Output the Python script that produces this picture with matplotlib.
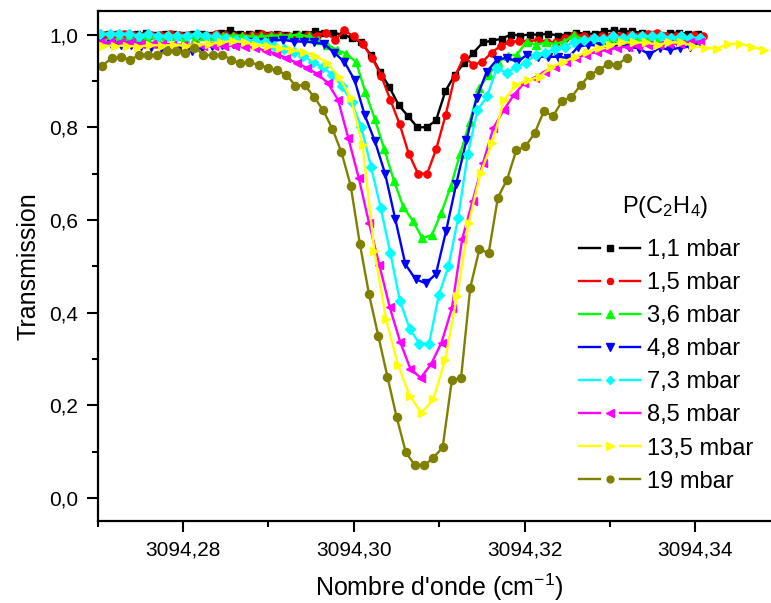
import numpy as np
import matplotlib
matplotlib.use("Agg")
import matplotlib.pyplot as plt
from matplotlib.lines import Line2D
from matplotlib.legend_handler import HandlerBase
from matplotlib.ticker import MultipleLocator, FuncFormatter

plt.rcParams['font.family'] = ['Liberation Sans', 'DejaVu Sans']
plt.rcParams['mathtext.fontset'] = 'custom'
plt.rcParams['mathtext.rm'] = 'Liberation Sans'
plt.rcParams['mathtext.it'] = 'Liberation Sans:italic'
plt.rcParams['mathtext.bf'] = 'Liberation Sans:bold'

# ---------------- data ----------------
labels = ["1,1 mbar", "1,5 mbar", "3,6 mbar", "4,8 mbar", "7,3 mbar", "8,5 mbar", "13,5 mbar", "19 mbar"]
colors = ["#000000", "#FF0000", "#00FF00", "#0000FF", "#00FFFF", "#FF00FF", "#FFFF00", "#808000"]
markers = ["s", "o", "^", "v", "D", "<", ">", "o"]

# first wavenumber (cm-1) and sampling step of each recorded spectrum
x_start = [3094.27022, 3094.27089, 3094.27028, 3094.27032, 3094.27028, 3094.27028, 3094.27063, 3094.27055]
x_step = [0.0010949, 0.0010773, 0.0011101, 0.0011909, 0.0011335, 0.0012120, 0.0013818, 0.0010773]

T_1_1 = [1.002, 1.002, 1.002, 1.002, 1.002, 1.004, 1.000, 1.002, 1.002, 1.000, 1.002, 1.002, 1.000,
         1.004, 1.009, 1.002, 1.002, 1.004, 1.000, 1.002, 1.000, 1.002, 1.002, 1.007, 1.004, 1.004,
         1.000, 0.993, 0.983, 0.957, 0.920, 0.887, 0.848, 0.824, 0.800, 0.800, 0.815, 0.878, 0.913,
         0.939, 0.961, 0.983, 0.987, 0.991, 1.000, 0.998, 1.000, 1.000, 1.002, 0.998, 1.000, 1.004,
         1.002, 1.002, 1.007, 1.009, 1.007, 1.007, 1.004, 1.002, 1.000, 1.004, 1.004, 1.002, 1.002]
T_1_5 = [1.000, 1.000, 1.002, 1.000, 0.998, 1.000, 1.000, 1.002, 1.000, 1.000, 0.998, 1.000, 1.002,
         1.000, 0.998, 0.998, 1.000, 1.002, 1.000, 1.000, 0.998, 0.998, 1.000, 0.998, 1.004, 0.989,
         1.009, 0.996, 0.980, 0.950, 0.911, 0.859, 0.807, 0.743, 0.700, 0.700, 0.754, 0.826, 0.909,
         0.952, 0.935, 0.941, 0.961, 0.976, 0.983, 0.987, 0.985, 0.989, 0.985, 0.983, 0.993, 1.000,
         0.998, 0.993, 0.998, 0.996, 0.998, 1.000, 0.998, 1.002, 1.004, 0.998, 0.996, 0.993, 1.000, 0.996]
T_3_6 = [0.989, 0.989, 0.991, 0.991, 0.991, 0.993, 0.993, 0.996, 0.996, 0.993, 0.993, 0.996, 0.996,
         0.996, 0.998, 0.998, 0.996, 0.996, 0.998, 0.998, 0.998, 1.000, 0.996, 0.989, 0.978, 0.967,
         0.959, 0.941, 0.876, 0.817, 0.752, 0.685, 0.628, 0.598, 0.561, 0.567, 0.615, 0.672, 0.743,
         0.811, 0.885, 0.913, 0.941, 0.954, 0.957, 0.985, 0.978, 0.983, 0.980, 0.985, 1.000, 0.989,
         0.991, 0.989, 0.987, 0.989, 0.989, 0.991, 0.989, 0.993, 0.991, 0.989, 0.991, 0.989]
T_4_8 = [0.985, 0.980, 0.978, 0.978, 0.976, 0.974, 0.972, 0.974, 0.972, 0.965, 0.972, 0.976, 0.978,
         0.980, 0.980, 0.985, 0.985, 0.987, 0.989, 0.985, 0.985, 0.983, 0.980, 0.961, 0.941, 0.902,
         0.826, 0.770, 0.700, 0.602, 0.504, 0.472, 0.463, 0.483, 0.576, 0.678, 0.772, 0.863, 0.920,
         0.946, 0.950, 0.941, 0.957, 0.952, 0.952, 0.952, 0.950, 0.974, 0.978, 0.976, 0.974, 0.976,
         0.974, 0.970, 0.957, 0.972, 0.967, 0.972, 0.974, 0.985]
T_7_3 = [1.002, 1.002, 1.002, 1.002, 0.998, 1.002, 0.998, 0.998, 0.998, 0.998, 1.002, 0.998, 0.996,
         0.993, 0.989, 0.989, 0.987, 0.983, 0.976, 0.970, 0.963, 0.954, 0.941, 0.930, 0.913, 0.889,
         0.854, 0.800, 0.715, 0.626, 0.528, 0.424, 0.365, 0.333, 0.333, 0.437, 0.500, 0.604, 0.743,
         0.837, 0.867, 0.928, 0.917, 0.930, 0.939, 0.957, 0.961, 0.970, 0.974, 0.985, 0.989, 0.993,
         0.991, 0.996, 0.993, 0.996, 0.998, 0.996, 0.998, 0.993, 0.996, 0.993, 0.993]
T_8_5 = [0.983, 0.983, 0.983, 0.983, 0.980, 0.980, 0.980, 0.978, 0.978, 0.978, 0.976, 0.976, 0.976,
         0.976, 0.974, 0.972, 0.965, 0.959, 0.950, 0.939, 0.928, 0.915, 0.896, 0.859, 0.776, 0.691,
         0.593, 0.502, 0.411, 0.337, 0.278, 0.259, 0.289, 0.335, 0.409, 0.559, 0.641, 0.722, 0.798,
         0.837, 0.870, 0.896, 0.907, 0.920, 0.930, 0.941, 0.950, 0.957, 0.963, 0.967, 0.972, 0.974,
         0.976, 0.978, 0.978, 0.980, 0.980, 0.983, 0.985]
T_13_5 = [0.976, 0.976, 0.976, 0.974, 0.978, 0.976, 0.978, 0.976, 0.978, 0.980, 0.983, 0.987, 0.983,
          0.978, 0.976, 0.972, 0.967, 0.963, 0.954, 0.939, 0.909, 0.863, 0.761, 0.533, 0.385, 0.287,
          0.220, 0.183, 0.213, 0.298, 0.435, 0.593, 0.702, 0.767, 0.859, 0.891, 0.902, 0.909, 0.930,
          0.941, 0.952, 0.963, 0.972, 0.978, 0.983, 0.983, 0.983, 0.978, 0.983, 0.983, 0.976, 0.972,
          0.970, 0.980, 0.980, 0.974, 0.967]
T_19 = [0.933, 0.949, 0.951, 0.946, 0.955, 0.957, 0.955, 0.964, 0.964, 0.960, 0.972, 0.957, 0.955,
        0.957, 0.946, 0.938, 0.940, 0.935, 0.928, 0.923, 0.913, 0.890, 0.891, 0.866, 0.837, 0.797,
        0.746, 0.674, 0.548, 0.439, 0.350, 0.261, 0.174, 0.098, 0.070, 0.070, 0.087, 0.109, 0.254,
        0.259, 0.454, 0.537, 0.528, 0.648, 0.687, 0.750, 0.759, 0.787, 0.835, 0.824, 0.857, 0.865,
        0.891, 0.913, 0.924, 0.937, 0.935, 0.950]

series = [T_1_1, T_1_5, T_3_6, T_4_8, T_7_3, T_8_5, T_13_5, T_19]
marker_sizes = [4.8, 5.2, 6.3, 6.3, 5.3, 6.3, 6.3, 5.8]

x_ticks = [3094.28, 3094.30, 3094.32, 3094.34]
y_ticks = [0.0, 0.2, 0.4, 0.6, 0.8, 1.0]
legend_title = r"P(C$_\mathregular{2}$H$_\mathregular{4}$)"


class GapLineHandler(HandlerBase):
    def create_artists(self, legend, orig_handle, xdescent, ydescent, width, height, fontsize, trans):
        y = height / 2.0 - ydescent
        x0 = -xdescent
        g = width * 0.16
        c = orig_handle.get_color()
        lw = orig_handle.get_linewidth()
        l1 = Line2D([x0, x0 + width / 2 - g], [y, y], color=c, lw=lw)
        l2 = Line2D([x0 + width / 2 + g, x0 + width], [y, y], color=c, lw=lw)
        m = Line2D([x0 + width / 2], [y], linestyle='none', marker=orig_handle.get_marker(),
                   markersize=orig_handle.get_markersize() * 0.85, color=c, markeredgecolor=c)
        for a in (l1, l2, m):
            a.set_transform(trans)
        return [l1, l2, m]


fig = plt.figure(figsize=(7.71, 6.03), dpi=100)
ax = fig.add_axes([0.1266, 0.136, 0.886, 0.845])

handles = []
for ys, x0, dx, lab, col, mk, ms in zip(series, x_start, x_step, labels, colors, markers, marker_sizes):
    xs = x0 + dx * np.arange(len(ys))
    h, = ax.plot(xs, ys, color=col, lw=1.7, marker=mk, markersize=ms,
                 markeredgecolor=col, markerfacecolor=col, label=lab)
    handles.append(h)

ax.set_xlim(3094.27, 3094.35)
ax.set_ylim(-0.05, 1.05)
ax.set_xticks(x_ticks)
ax.set_yticks(y_ticks)
ax.xaxis.set_minor_locator(MultipleLocator(0.01))
ax.yaxis.set_minor_locator(MultipleLocator(0.1))
ax.xaxis.set_major_formatter(FuncFormatter(lambda v, p: ("%.2f" % v).replace('.', ',')))
ax.yaxis.set_major_formatter(FuncFormatter(lambda v, p: ("%.1f" % v).replace('.', ',')))
ax.tick_params(which='major', direction='out', length=8, width=1.5, labelsize=15, pad=6)
ax.tick_params(which='minor', direction='out', length=4.5, width=1.5)
ax.tick_params(top=False, right=False, which='both')
for s in ax.spines.values():
    s.set_linewidth(1.6)

ax.set_xlabel("Nombre d'onde (cm$^\\mathregular{-1}$)", fontsize=18, labelpad=9)
ax.set_ylabel("Transmission", fontsize=18, labelpad=6)

leg = fig.legend(handles=handles, labels=labels,
                 handler_map={Line2D: GapLineHandler()},
                 loc='upper left', bbox_to_anchor=(579 / 771, 1 - 239 / 603),
                 frameon=False, fontsize=17,
                 handlelength=2.6, handletextpad=0.3, labelspacing=0.47,
                 borderpad=0, borderaxespad=0)
fig.text(665 / 771, 1 - 207 / 603, legend_title, fontsize=17, ha='center', va='center')

fig.savefig("out.png", dpi=100)
